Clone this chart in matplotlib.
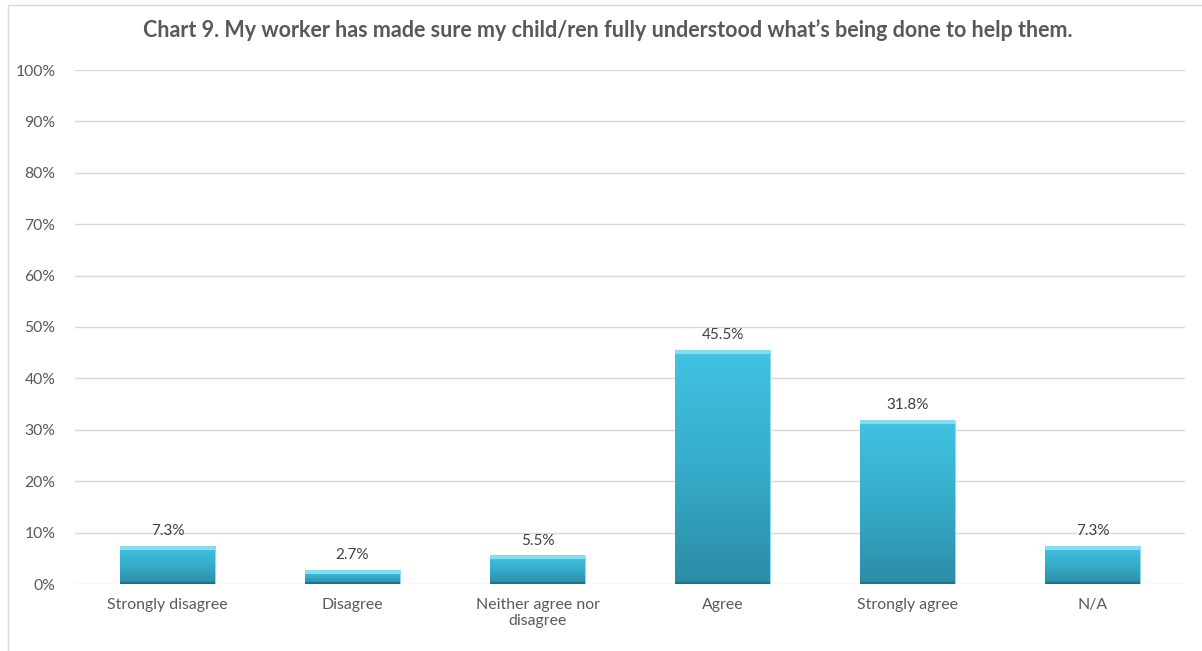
import matplotlib.pyplot as plt
import numpy as np
from matplotlib.colors import LinearSegmentedColormap
from matplotlib.patches import Rectangle

categories = ['Strongly disagree', 'Disagree', 'Neither agree nor\ndisagree',
              'Agree', 'Strongly agree', 'N/A']
values = [7.3, 2.7, 5.5, 45.5, 31.8, 7.3]
labels = ['7.3%', '2.7%', '5.5%', '45.5%', '31.8%', '7.3%']
yticks = list(range(0, 101, 10))

plt.rcParams['font.family'] = ['Lato', 'DejaVu Sans']

fig = plt.figure(figsize=(12.02, 6.51), dpi=100)
ax = fig.add_axes([75 / 1202, 1 - 584 / 651, 1110 / 1202, 514 / 651])

# light frame round the chart
fig.patches.append(Rectangle((8 / 1202, -0.01), 1.2, 1 - 5 / 651 + 0.01,
                             transform=fig.transFigure, fill=False,
                             edgecolor='#d9d9d9', linewidth=1))

x = np.arange(len(categories))
bars = ax.bar(x, values, width=0.51, color='#35a9c8', edgecolor='#8fdcee',
              linewidth=0.8, zorder=3)

# vertical gradient inside each bar
cmap = LinearSegmentedColormap.from_list('bar', ['#2c8ca5', '#36acca', '#41c3e2'])
grad = np.linspace(0, 1, 256).reshape(-1, 1)
for b in bars:
    x0, y0 = b.get_x(), b.get_y()
    w, h = b.get_width(), b.get_height()
    im = ax.imshow(grad, cmap=cmap, origin='lower', aspect='auto',
                   extent=[x0, x0 + w, y0, y0 + h], zorder=4)
    im.set_clip_path(b)
    ax.plot([x0, x0 + w], [y0 + h - 0.3, y0 + h - 0.3], color='#7fe0f3',
            linewidth=3, zorder=5, solid_capstyle='butt')
    ax.plot([x0, x0 + w], [0.1, 0.1], color='#256f82', linewidth=1.5, zorder=5,
            solid_capstyle='butt')

for xi, v, lab in zip(x, values, labels):
    ax.text(xi, v + 1.6, lab, ha='center', va='bottom', fontsize=11,
            color='#404040')

ax.set_xlim(-0.5, len(categories) - 0.5)
ax.set_ylim(0, 100)
ax.set_yticks(yticks)
ax.set_yticklabels([f'{t}%' for t in yticks], fontsize=11.3, color='#595959')
ax.set_xticks(x)
ax.set_xticklabels(categories, fontsize=11.4, color='#595959')
ax.tick_params(axis='y', length=0, pad=14)
ax.tick_params(axis='x', length=0, pad=10)
ax.grid(axis='y', color='#d9d9d9', linewidth=1, zorder=0)
for s in ax.spines.values():
    s.set_visible(False)
ax.set_axisbelow(True)

fig.text(608 / 1202, 1 - 30 / 651,
         'Chart 9. My worker has made sure my child/ren fully understood what\u2019s being done to help them.',
         ha='center', va='center', fontsize=15.5, fontweight='bold', color='#595959')

fig.savefig('out.png', dpi=100)
